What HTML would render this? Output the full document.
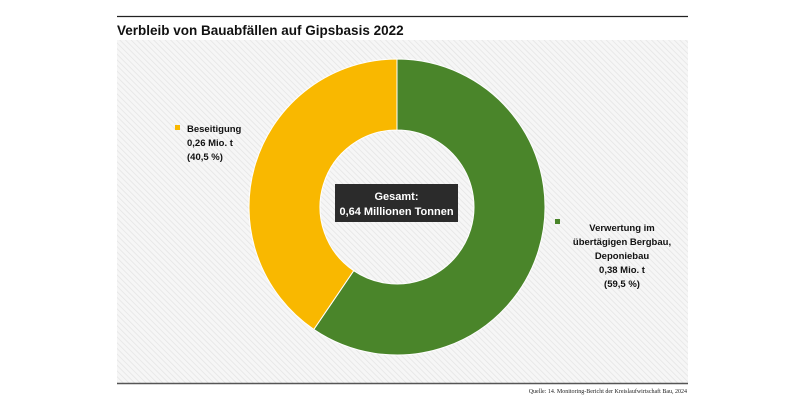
<!DOCTYPE html>
<html><head><meta charset="utf-8"><style>
body{margin:0;width:800px;height:400px;background:#fff;font-family:"Liberation Sans",sans-serif;overflow:hidden}
</style></head><body>
<svg width="800" height="400">
<defs><pattern id="hatch" width="4" height="4" patternUnits="userSpaceOnUse" patternTransform="rotate(-45)">
<rect width="4" height="4" fill="#f6f6f6"/><line x1="0" y1="0" x2="0" y2="4" stroke="#e4e4e4" stroke-width="1.5"/></pattern></defs>
<line x1="117" y1="16.5" x2="688" y2="16.5" stroke="#222" stroke-width="1.2"/>
<text x="117" y="35" font-size="13.5" font-weight="bold" fill="#111">Verbleib von Bauabfällen auf Gipsbasis 2022</text>
<rect x="117" y="40" width="571" height="343" fill="url(#hatch)"/>
<g id="donut"></g>
<rect x="335" y="184" width="123" height="38" fill="#2b2b2b"/>
<text x="396.5" y="200" font-size="11" font-weight="bold" fill="#fff" text-anchor="middle">Gesamt:</text>
<text x="396.5" y="215" font-size="11" font-weight="bold" fill="#fff" text-anchor="middle">0,64 Millionen Tonnen</text>
<g>
<rect x="175" y="125" width="5" height="5" fill="#f9b800"/>
<text font-size="9.5" font-weight="bold" fill="#111"><tspan x="187" y="132">Beseitigung</tspan><tspan x="187" y="146">0,26 Mio. t</tspan><tspan x="187" y="160">(40,5 %)</tspan></text>
</g>
<g>
<rect x="555" y="219" width="5" height="5" fill="#4a852a"/>
<text font-size="9.5" font-weight="bold" fill="#111" text-anchor="middle"><tspan x="622" y="231">Verwertung im</tspan><tspan x="622" y="245">übertägigen Bergbau,</tspan><tspan x="622" y="259">Deponiebau</tspan><tspan x="622" y="273">0,38 Mio. t</tspan><tspan x="622" y="287">(59,5 %)</tspan></text>
</g>
<line x1="117" y1="383.5" x2="688" y2="383.5" stroke="#555" stroke-width="1.5"/>
<text x="687" y="393" font-size="6" fill="#222" text-anchor="end" font-family="Liberation Serif,serif">Quelle: 14. Monitoring-Bericht der Kreislaufwirtschaft Bau, 2024</text>
</svg>
<script>
const categories=["Verwertung im übertägigen Bergbau, Deponiebau","Beseitigung"];
const values=[59.5,40.5];
const colors=["#4a852a","#f9b800"];
const cx=397,cy=207,R=148,r=77;
const g=document.getElementById('donut');
const total=values.reduce((a,b)=>a+b,0);
let a0=-Math.PI/2;
function pt(rad,a){return [cx+rad*Math.cos(a),cy+rad*Math.sin(a)];}
values.forEach((v,i)=>{
 const a1=a0+v/total*2*Math.PI;
 const large=(a1-a0)>Math.PI?1:0;
 const [x0,y0]=pt(R,a0),[x1,y1]=pt(R,a1),[x2,y2]=pt(r,a1),[x3,y3]=pt(r,a0);
 const p=document.createElementNS('http://www.w3.org/2000/svg','path');
 p.setAttribute('d',`M${x0},${y0}A${R},${R} 0 ${large} 1 ${x1},${y1}L${x2},${y2}A${r},${r} 0 ${large} 0 ${x3},${y3}Z`);
 p.setAttribute('fill',colors[i]);
 p.setAttribute('stroke','#fff');
 p.setAttribute('stroke-width','1');
 
 
 g.appendChild(p);
 a0=a1;
});
</script>
</body></html>
